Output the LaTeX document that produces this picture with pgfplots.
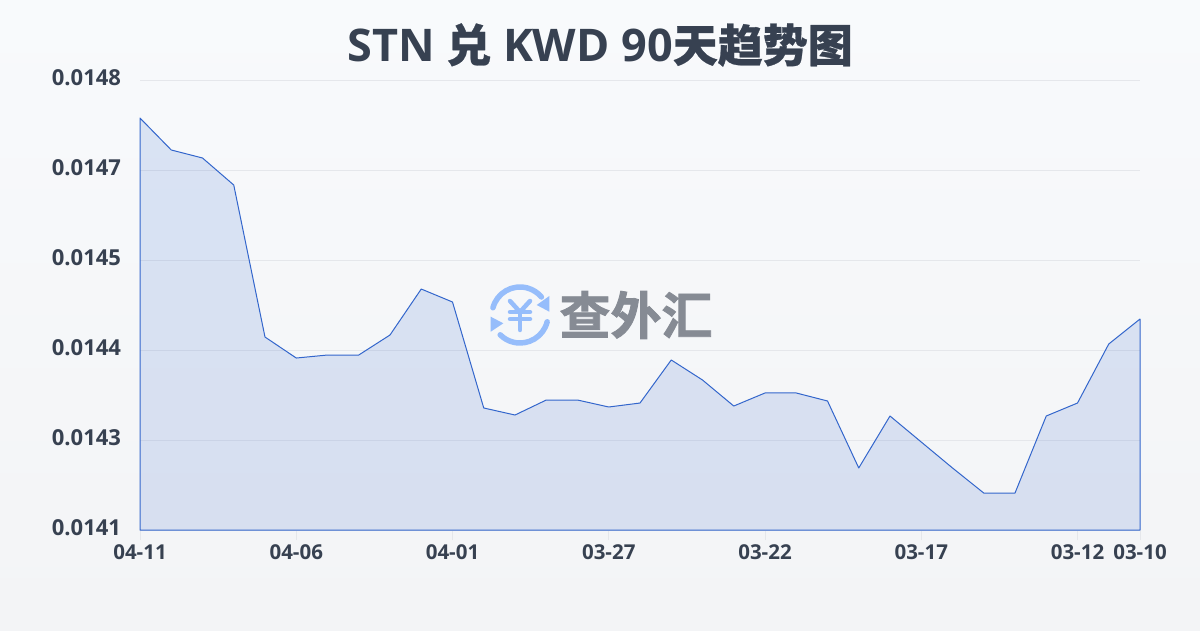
\documentclass[border=0pt]{standalone}
\usepackage{pgfplots}
\pgfplotsset{compat=1.18}
\usepackage{fontspec}
\setmainfont{Open Sans}[BoldFont={Open Sans Bold}]
\newfontfamily\cjk{Noto Sans CJK SC Bold}[FakeBold=0.6]
\newfontfamily\cjklogo{Noto Sans CJK SC Bold}[FakeBold=1.6]
\definecolor{txt}{HTML}{374151}
\definecolor{lin}{HTML}{3366CC}
\definecolor{grd}{HTML}{E5E7EB}
\definecolor{bgt}{HTML}{F8FAFC}
\definecolor{bgb}{HTML}{F3F4F6}
\definecolor{logoblue}{HTML}{96BDFB}
\definecolor{logogray}{HTML}{868B94}
\pgfplotstableread{
x y
0 0.0147517
1 0.0147027
2 0.0146904
3 0.0146490
4 0.0144159
5 0.0143837
6 0.0143883
7 0.0143883
8 0.0144190
9 0.0144895
10 0.0144696
11 0.0143071
12 0.0142963
13 0.0143193
14 0.0143193
15 0.0143086
16 0.0143147
17 0.0143807
18 0.0143500
19 0.0143101
20 0.0143301
21 0.0143301
22 0.0143178
23 0.0142151
24 0.0142948
25 0.0142549
26 0.0142151
27 0.0141767
28 0.0141767
29 0.0142948
30 0.0143147
31 0.0144052
32 0.0144435
}\datatable
\begin{document}
\begin{tikzpicture}[x=1pt,y=1pt]
\shade[top color=bgt,bottom color=bgb] (0,0) rectangle (1200,630);
\begin{axis}[
  at={(140pt,100pt)},anchor=south west,
  width=1000pt,height=450pt,scale only axis,
  xmin=0,xmax=32,ymin=0.01412,ymax=0.01481,
  clip=false,
  axis line style={draw=none},
  xtick pos=bottom,
  ytick pos=left,
  xtick={0,5,10,15,20,25,30,32},
  xticklabels={04-11,04-06,04-01,03-27,03-22,03-17,03-12,03-10},
  ytick={0.01412,0.014258,0.014396,0.014534,0.014672,0.01481},
  yticklabels={0.0141,0.0143,0.0144,0.0145,0.0147,0.0148},
  scaled y ticks=false,
  ymajorgrids,
  major grid style={grd,line width=1pt},
  xtick style={grd,line width=1pt},
  ytick style={draw=none},
  tick align=outside,
  major tick length=10pt,
  tick label style={font=\bfseries\fontsize{22}{26}\selectfont,text=txt},
  x tick label style={font=\bfseries\fontsize{20.5}{24}\selectfont,text=txt,yshift=-1pt},
  y tick label style={xshift=-5.5pt,yshift=2pt},
]
\addplot[draw=lin,line width=1pt,line join=round,fill=lin,fill opacity=0.15,draw opacity=1] table[x=x,y=y]{\datatable} \closedcycle;
\end{axis}
\node[text=txt,font=\bfseries\fontsize{45}{52}\selectfont,anchor=center] at (600,585) {STN {\cjk 兑} KWD 90{\cjk 天趋势图}};
% watermark
\begin{scope}[line cap=round,logoblue,line width=5.5pt]
\draw (520,315)++(165:28) arc (165:40:28);
\draw (520,315)++(-14:28) arc (-14:-135:28);
\fill (549.3,334) -- (549.3,318.3) -- (536.7,325) -- cycle;
\fill (490.7,313.3) -- (490.7,298.3) -- (503.3,306.7) -- cycle;
\begin{scope}[line width=4.5pt]
\draw (510,329) -- (520,318) -- (530,329);
\draw (520,318) -- (520,300);
\draw (510,318) -- (530,318);
\draw (510,311) -- (530,311);
\end{scope}
\end{scope}
\node[text=logogray,font=\cjklogo\fontsize{51}{56}\selectfont,anchor=center] at (636,315) {查外汇};
\end{tikzpicture}
\end{document}
